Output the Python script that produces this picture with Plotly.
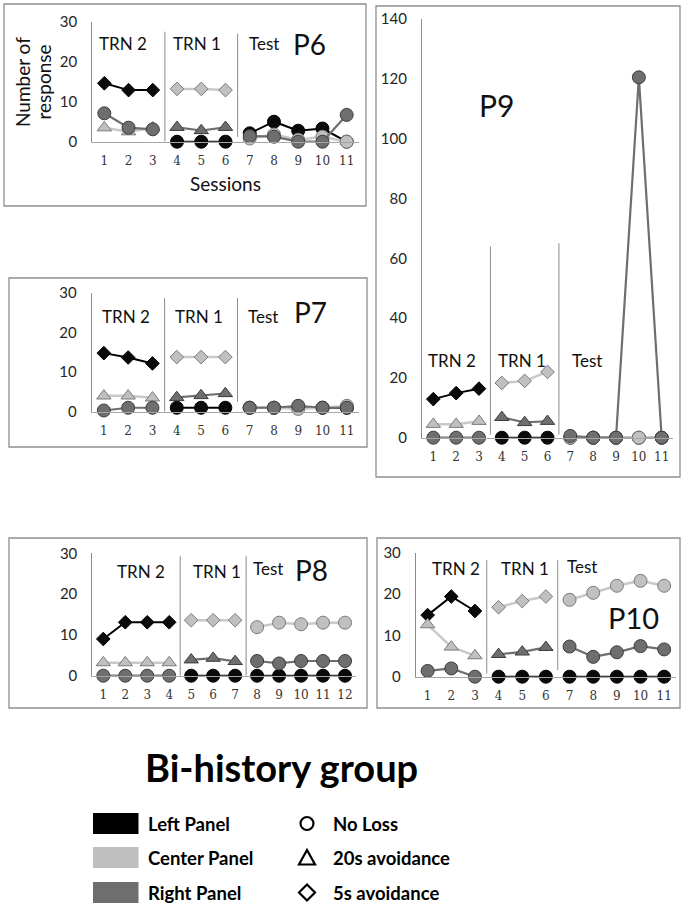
import plotly.graph_objects as go

# ---------------- data ----------------
phase_names = ["TRN 2", "TRN 1", "Test"]
panels = ["Left Panel", "Center Panel", "Right Panel"]
conditions = ["No Loss", "20s avoidance", "5s avoidance"]

# number of sessions in each phase (TRN 2, TRN 1, Test)
P6_phase_len = [3, 3, 5]
P6_left = [14.6, 12.9, 12.9, 0, 0, 0, 2.1, 5, 2.75, 3.3, 0]
P6_center = [3.5, 2.5, 3.5, 13.2, 13.2, 12.9, 0.8, 1.8, 0.5, 1.25, 0]
P6_right = [7.1, 3.5, 3.1, 3.6, 2.8, 3.6, 1.4, 1.25, 0, 0, 6.7]

P7_phase_len = [3, 3, 5]
P7_left = [14.8, 13.7, 12.2, 1, 1, 1, 1, 1, 1, 1, 1]
P7_center = [4, 4, 3.5, 13.8, 13.8, 13.8, 1, 1, 0.7, 1, 1.5]
P7_right = [0.3, 1, 1, 3.6, 4.1, 4.6, 1, 1, 1.5, 1, 1]

P8_phase_len = [4, 3, 5]
P8_left = [9, 13.1, 13.1, 13.1, 0, 0, 0, 0, 0, 0, 0, 0]
P8_center = [3.2, 3.2, 3.2, 3.2, 13.6, 13.6, 13.6, 11.9, 13, 12.6, 13, 13]
P8_right = [0, 0, 0, 0, 3.9, 4.3, 3.5, 3.6, 3, 3.6, 3.6, 3.6]

P9_phase_len = [3, 3, 5]
P9_left = [12.9, 14.9, 16.4, 0, 0, 0, 0, 0, 0, 0, 0]
P9_center = [4.5, 4.5, 5.5, 18.3, 19, 22, 0, 0, 0, 0, 0]
P9_right = [0, 0, 0, 6.8, 5.1, 5.5, 0.6, 0, 0, 120.5, 0]

P10_phase_len = [3, 3, 5]
P10_left = [14.9, 19.4, 15.9, 0, 0, 0, 0, 0, 0, 0, 0]
P10_center = [12.6, 7.2, 5.1, 16.8, 18.3, 19.4, 18.6, 20.3, 22, 23.2, 22]
P10_right = [1.4, 2, 0, 5.4, 6, 7.1, 7.3, 4.8, 5.9, 7.4, 6.6]

y_max = {"P6": 30, "P7": 30, "P8": 30, "P9": 140, "P10": 30}
y_step = {"P6": 10, "P7": 10, "P8": 10, "P9": 20, "P10": 10}

# symbol used by each panel in each phase
phase_symbols = {
    "TRN 2": ["diamond", "triangle-up", "circle"],
    "TRN 1": ["circle", "diamond", "triangle-up"],
    "Test": ["circle", "circle", "circle"],
}

# ---------------- styling ----------------
W, H = 682, 903
FONT = "Lato"


def fx(p):
    return p / W


def fy(p):
    return 1 - p / H


panel_fill = ["#0a0a0a", "#c0c0c0", "#6e6e6e"]
panel_edge = ["#000000", "#7a7a7a", "#3c3c3c"]
panel_line = ["#000000", "#c9c9c9", "#6e6e6e"]
panel_lw = [2, 2.5, 2.2]
sym_size = {"diamond": 10.5, "triangle-up": 12.5, "circle": 13}

# plot-area pixel geometry: (left, right, top, bottom)
geom = {
    "P6": (92.2, 358.8, 21.7, 141.7),
    "P7": (91.7, 359.0, 293.0, 411.7),
    "P8": (92.3, 356.0, 553.3, 675.7),
    "P9": (421.9, 673.1, 19.0, 437.7),
    "P10": (415.8, 676.0, 552.7, 676.7),
}
boxes = {
    "P6": (4, 366, 4, 206),
    "P7": (9, 367, 278, 447),
    "P8": (9, 367, 538, 708),
    "P9": (376, 680, 6, 477),
    "P10": (377, 680, 538, 708),
}
# label positions (left x, centre y) for TRN 2, TRN 1, Test, and participant label
label_pos = {
    "P6": [(97, 43.5), (170.5, 43.5), (246.5, 43.5), (291, 44, 28)],
    "P7": [(100, 316.5), (172.5, 316.5), (245.5, 316.5), (292, 312, 28)],
    "P8": [(114.5, 571.5), (191, 571.5), (251, 568.5), (292.5, 570, 28)],
    "P9": [(426, 361), (495.5, 361), (569.5, 360.5), (477, 105, 30)],
    "P10": [(429.5, 568.5), (498.5, 568.5), (564.5, 566.5), (606, 617, 29)],
}
# divider extents (y0,y1) in data units for the two phase dividers
div_ext = {
    "P6": [(0, 27.5), (1.2, 27)],
    "P7": [(0, 28.7), (2.5, 28.7)],
    "P8": [(0, 29.3), (0, 29.3)],
    "P9": [(1, 64), (1, 65)],
    "P10": [(0.8, 28.2), (1.6, 28.2)],
}

data = {
    "P6": (P6_phase_len, [P6_left, P6_center, P6_right]),
    "P7": (P7_phase_len, [P7_left, P7_center, P7_right]),
    "P8": (P8_phase_len, [P8_left, P8_center, P8_right]),
    "P9": (P9_phase_len, [P9_left, P9_center, P9_right]),
    "P10": (P10_phase_len, [P10_left, P10_center, P10_right]),
}

fig = go.Figure()
shapes = []
annotations = []
layout_axes = {}

for i, (pid, (plen, series)) in enumerate(data.items(), start=1):
    xa = "x" if i == 1 else f"x{i}"
    ya = "y" if i == 1 else f"y{i}"
    n = sum(plen)
    sessions = list(range(1, n + 1))
    bounds = []
    s = 0
    for L in plen:
        bounds.append((s, s + L))
        s += L
    for k, vals in enumerate(series):
        for ph, (a, b) in zip(phase_names, bounds):
            sym = phase_symbols[ph][k]
            fig.add_trace(go.Scatter(
                x=sessions[a:b], y=vals[a:b], xaxis=xa, yaxis=ya,
                mode="lines+markers", cliponaxis=False, showlegend=False,
                name=f"{pid} {panels[k]} {ph}",
                line=dict(color=panel_line[k], width=panel_lw[k]),
                marker=dict(symbol=sym, size=sym_size[sym], color=panel_fill[k],
                            line=dict(color=panel_edge[k], width=1)),
            ))
    l, r, t, bt = geom[pid]
    ym = y_max[pid]
    layout_axes["xaxis" if i == 1 else f"xaxis{i}"] = dict(
        domain=[fx(l), fx(r)], range=[0.5, n + 0.5], anchor=ya, automargin=False,
        tickvals=sessions, ticktext=[str(v) for v in sessions],
        showline=True, linecolor="#a6a6a6", linewidth=1.2,
        showgrid=False, zeroline=False, ticks="", ticklabelstandoff=8,
        tickfont=dict(family="DejaVu Serif", size=12, color="#333333"),
        fixedrange=True,
    )
    layout_axes["yaxis" if i == 1 else f"yaxis{i}"] = dict(
        domain=[fy(bt), fy(t)], range=[0, ym], anchor=xa, automargin=False,
        tickvals=list(range(0, ym + 1, y_step[pid])),
        showline=True, linecolor="#8c8c8c", linewidth=1,
        showgrid=False, zeroline=False, ticks="", ticklabelstandoff=11,
        tickfont=dict(family=FONT, size=15, color="#262626"),
        fixedrange=True,
    )
    # phase dividers
    for (a, b), (y0, y1) in zip(bounds[:2], div_ext[pid]):
        shapes.append(dict(type="line", xref=xa, yref=ya, x0=b + 0.5, x1=b + 0.5,
                           y0=y0, y1=y1, line=dict(color="#8c8c8c", width=1)))
    # box
    bx0, bx1, by0, by1 = boxes[pid]
    shapes.append(dict(type="rect", xref="paper", yref="paper",
                       x0=fx(bx0), x1=fx(bx1), y0=fy(by1), y1=fy(by0),
                       line=dict(color="#8f8f8f", width=1.3)))
    # labels
    for ph, (lx, ly) in zip(phase_names, label_pos[pid][:3]):
        annotations.append(dict(xref="paper", yref="paper", x=fx(lx), y=fy(ly),
                                xanchor="left", yanchor="middle", showarrow=False,
                                text=ph, font=dict(family=FONT, size=17, color="#111111")))
    lx, ly, fs = label_pos[pid][3]
    annotations.append(dict(xref="paper", yref="paper", x=fx(lx), y=fy(ly),
                            xanchor="left", yanchor="middle", showarrow=False,
                            text=pid, font=dict(family=FONT, size=fs, color="#111111")))

# axis titles for P6
annotations.append(dict(xref="paper", yref="paper", x=fx(22.5), y=fy(82.5), textangle=-90,
                        xanchor="center", yanchor="middle", showarrow=False,
                        text="Number of", font=dict(family=FONT, size=19, color="#111111")))
annotations.append(dict(xref="paper", yref="paper", x=fx(42.5), y=fy(82), textangle=-90,
                        xanchor="center", yanchor="middle", showarrow=False,
                        text="response", font=dict(family=FONT, size=19, color="#111111")))
annotations.append(dict(xref="paper", yref="paper", x=fx(225), y=fy(183),
                        xanchor="center", yanchor="middle", showarrow=False,
                        text="Sessions", font=dict(family=FONT, size=19, color="#111111")))

# group title
annotations.append(dict(xref="paper", yref="paper", x=fx(281), y=fy(767),
                        xanchor="center", yanchor="middle", showarrow=False,
                        text="<b>Bi-history group</b>", font=dict(family=FONT, size=38, color="#000000")))

# legend: panels (colour swatches)
sw_y = [823.5, 857.5, 892.5]
for k, name in enumerate(panels):
    cy = sw_y[k]
    shapes.append(dict(type="rect", xref="paper", yref="paper",
                       x0=fx(93), x1=fx(138.5), y0=fy(cy + 10.5), y1=fy(cy - 10.5),
                       fillcolor=["#000000", "#bfbfbf", "#6e6e6e"][k], line=dict(width=0)))
    annotations.append(dict(xref="paper", yref="paper", x=fx(146), y=fy(cy),
                            xanchor="left", yanchor="middle", showarrow=False,
                            text=f"<b>{name}</b>", font=dict(family=FONT, size=18.5, color="#000000")))

# legend: conditions (symbols)
cx = 307
shapes.append(dict(type="circle", xref="paper", yref="paper",
                   x0=fx(cx - 6.5), x1=fx(cx + 6.5), y0=fy(sw_y[0] + 6.5), y1=fy(sw_y[0] - 6.5),
                   line=dict(color="#000000", width=2.2)))
ty = sw_y[1]
shapes.append(dict(type="path", xref="paper", yref="paper",
                   path=f"M {fx(cx - 8)},{fy(ty + 7)} L {fx(cx + 8)},{fy(ty + 7)} L {fx(cx)},{fy(ty - 7.5)} Z",
                   line=dict(color="#000000", width=2.2)))
dy = sw_y[2]
shapes.append(dict(type="path", xref="paper", yref="paper",
                   path=(f"M {fx(cx - 8)},{fy(dy)} L {fx(cx)},{fy(dy - 8)} "
                         f"L {fx(cx + 8)},{fy(dy)} L {fx(cx)},{fy(dy + 8)} Z"),
                   line=dict(color="#000000", width=2.2)))
for k, name in enumerate(conditions):
    annotations.append(dict(xref="paper", yref="paper", x=fx(331), y=fy(sw_y[k]),
                            xanchor="left", yanchor="middle", showarrow=False,
                            text=f"<b>{name}</b>", font=dict(family=FONT, size=18.5, color="#000000")))

fig.update_layout(
    width=W, height=H, margin=dict(l=0, r=0, t=0, b=0, pad=0, autoexpand=False),
    paper_bgcolor="white", plot_bgcolor="rgba(0,0,0,0)",
    showlegend=False, shapes=shapes, annotations=annotations,
    font=dict(family=FONT),
    **layout_axes,
)

fig.write_html("out.html", config={"displayModeBar": False},
               post_script="document.body.style.margin='0';document.body.style.overflow='hidden';")
